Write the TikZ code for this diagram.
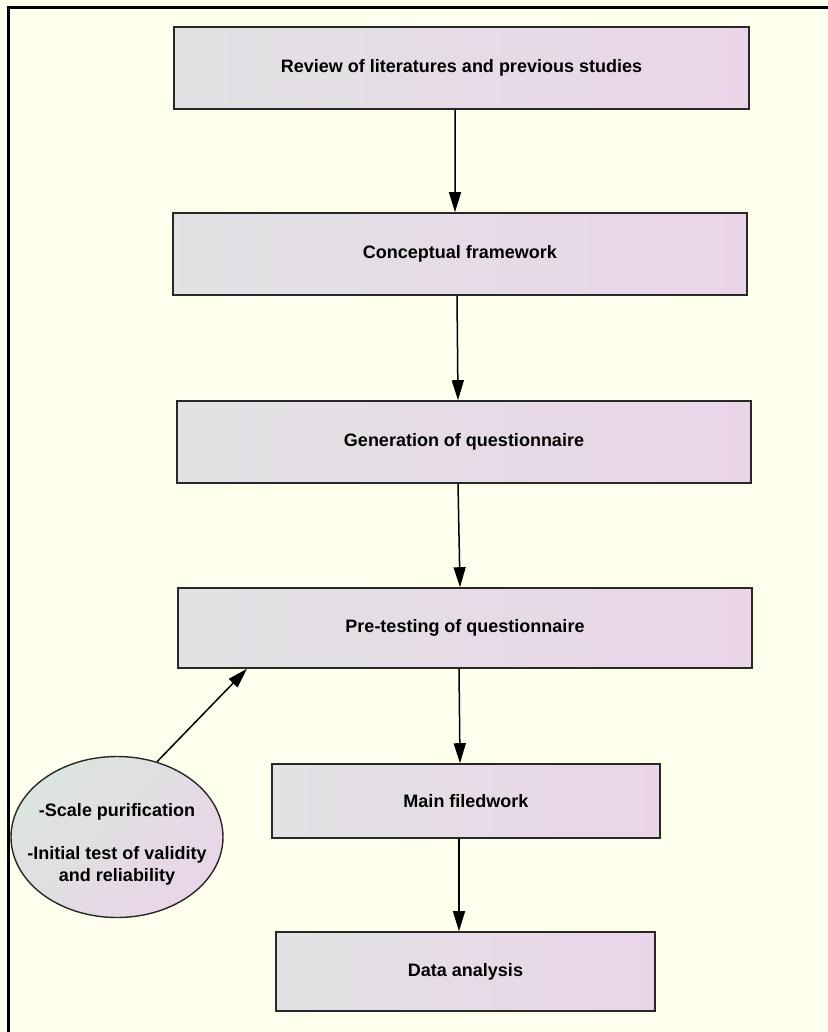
\documentclass[tikz,border=0pt]{standalone}
\usepackage{fontspec}
\setmainfont{Liberation Sans}
\usetikzlibrary{arrows.meta,shapes.geometric}

\definecolor{pageback}{RGB}{255,255,238}
\definecolor{fillA}{RGB}{221,232,225}
\definecolor{fillB}{RGB}{234,213,232}
\definecolor{edge}{RGB}{40,40,40}

% left-to-right fill that reaches the pink tone at three quarters of the width
\pgfdeclarehorizontalshading{boxfill}{100bp}{color(0bp)=(fillA); color(75bp)=(fillB); color(100bp)=(fillB)}

\tikzset{
  stepbox/.style={rectangle, draw=edge, line width=1.6bp, shading=boxfill,
    inner sep=0pt, font=\fontsize{18bp}{21.5bp}\selectfont\bfseries},
  notebox/.style={ellipse, draw=edge, line width=1.4bp, inner sep=0pt,
    top color=fillA!97!gray, bottom color=fillB, shading angle=45},
  notetxt/.style={align=center, inner sep=0pt, font=\fontsize{18bp}{21.5bp}\selectfont\bfseries},
  flow/.style={draw=black, line width=1.5bp, -{Triangle[length=20bp,width=12bp]}}
}

\begin{document}
\begin{tikzpicture}[x=1bp, y=-1bp]
  % page and frame
  \fill[pageback] (0,0) rectangle (828,1032);
  \useasboundingbox (0,0) rectangle (828,1032);
  \draw[line width=3bp, black] (8,1032) -- (8,7) -- (828,7);

  % process steps
  \node[stepbox, minimum width=575bp, minimum height=82bp] (b1) at (461.5,68) {Review of literatures and previous studies};
  \node[stepbox, minimum width=574bp, minimum height=82bp] (b2) at (460,254) {Conceptual framework};
  \node[stepbox, minimum width=574bp, minimum height=82bp] (b3) at (464,442) {Generation of questionnaire};
  \node[stepbox, minimum width=574bp, minimum height=80bp] (b4) at (465,628) {Pre-testing of questionnaire};
  \node[stepbox, minimum width=388bp, minimum height=74bp] (b5) at (466,801) {Main filedwork};
  \node[stepbox, minimum width=379bp, minimum height=79bp] (b6) at (465.5,971.5) {Data analysis};

  % side note
  \node[notebox, minimum width=212bp, minimum height=161bp] (note) at (117,837) {};
  \node[notetxt] (notetext) at (117,844.5) {-Scale purification\\[21.5bp]-Initial test of validity\\and reliability};

  % connectors
  \draw[flow] ([xshift=-6.5bp]b1.south) -- ([xshift=-5bp]b2.north);
  \draw[flow] ([xshift=-3bp]b2.south) -- ([xshift=-6bp]b3.north);
  \draw[flow] ([xshift=-6bp]b3.south) -- ([xshift=-5bp]b4.north);
  \draw[flow] ([xshift=-6bp]b4.south) -- ([xshift=-6bp]b5.north);
  \draw[flow] ([xshift=-7bp]b5.south) -- ([xshift=-6.5bp]b6.north);
  \draw[flow] (note.62) -- ([xshift=-218bp]b4.south);
\end{tikzpicture}
\end{document}
